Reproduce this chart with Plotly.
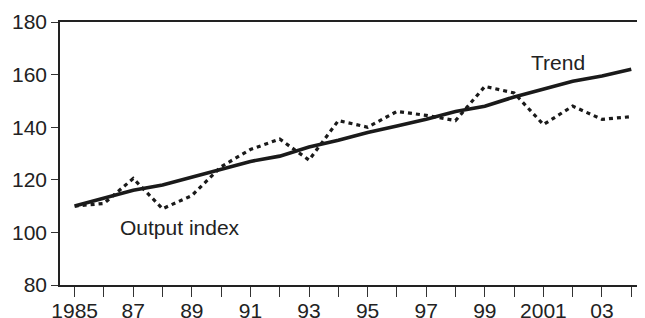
import plotly.graph_objects as go

years = list(range(1985, 2005))
trend = [110, 113, 116, 118, 121, 124, 127, 129, 132.5, 135, 138, 140.5, 143, 146, 148, 151.5, 154.5, 157.5, 159.5, 162]
output_index = [110, 111, 120.5, 109, 114, 125, 131.5, 135.5, 127.5, 142.5, 140, 146, 144.5, 142.5, 155.5, 153, 141, 148, 143, 144]

tick_vals = years
tick_text = ["1985", "", "87", "", "89", "", "91", "", "93", "", "95", "", "97", "", "99", "", "2001", "", "03", ""]
y_ticks = [80, 100, 120, 140, 160, 180]

font_family = "Liberation Sans, Arial, sans-serif"

fig = go.Figure()
fig.add_trace(go.Scatter(x=years, y=output_index, mode="lines",
                         line=dict(color="#1a1a1a", width=3.2, dash="4px,4px"),
                         showlegend=False))
fig.add_trace(go.Scatter(x=years, y=trend, mode="lines",
                         line=dict(color="#1a1a1a", width=3.6),
                         showlegend=False))

fig.add_annotation(x=2001.5, y=164.5, text="Trend", showarrow=False,
                   font=dict(size=21, color="#222", family=font_family))
fig.add_annotation(x=1988.6, y=101.7, text="Output index", showarrow=False,
                   font=dict(size=21, color="#222", family=font_family))

# page body has an 8px margin, so the figure is sized to the visible area
fig.update_layout(
    width=637, height=310, autosize=False,
    margin=dict(l=52, r=2, t=14, b=33, autoexpand=False),
    plot_bgcolor="white", paper_bgcolor="white",
    font=dict(family=font_family, size=21, color="#222"),
    xaxis=dict(range=[1984.5, 2004.4], tickmode="array", tickvals=tick_vals, ticktext=tick_text,
               ticks="outside", ticklen=10, tickwidth=1, tickcolor="#333",
               showline=True, linecolor="#222", linewidth=1.5, mirror=True,
               showgrid=False, zeroline=False, tickfont=dict(size=21),
               ticklabelstandoff=-4, automargin=False),
    yaxis=dict(range=[80, 180], tickmode="array", tickvals=y_ticks,
               ticks="outside", ticklen=7, tickwidth=1, tickcolor="#333",
               showline=True, linecolor="#222", linewidth=1.5, mirror=True,
               showgrid=False, zeroline=False, tickfont=dict(size=21), automargin=False),
)

fig.write_html("out.html")
